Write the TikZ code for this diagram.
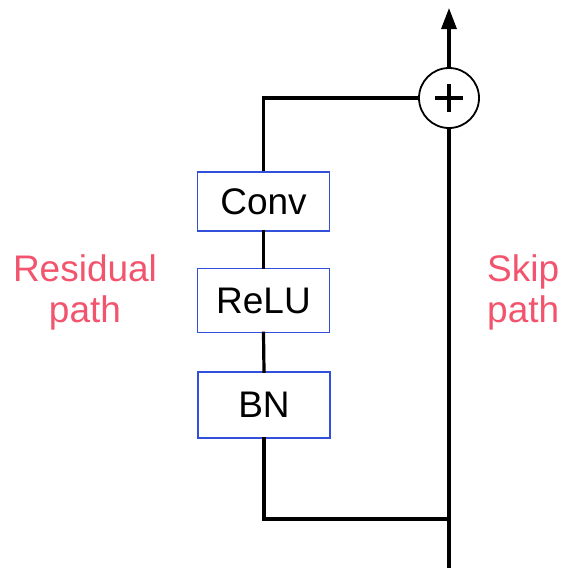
\documentclass[tikz,border=0pt]{standalone}
\usepackage{fontspec}
\setmainfont{Liberation Sans}
\usetikzlibrary{arrows.meta}
\definecolor{boxblue}{RGB}{50,80,220}
\definecolor{labelred}{RGB}{242,84,110}
\begin{document}
\begin{tikzpicture}[x=1pt,y=-1pt,
  layer/.style={draw=boxblue,line width=1.4pt,fill=white,minimum width=132pt,inner sep=0pt,font=\fontsize{37}{40}\selectfont},
  wire/.style={line width=3.2pt,line cap=rect},
  lbl/.style={text=labelred,font=\fontsize{37}{41}\selectfont,inner sep=0pt}]
\useasboundingbox (0,0) rectangle (560,568);
\node[layer,minimum height=59pt] (conv) at (263.5,201.5) {Conv};
\node[layer,minimum height=64pt] (relu) at (263.5,300.5) {ReLU};
\node[layer,minimum height=66pt] (bn) at (264,405) {BN};
\node[draw,circle,line width=1.8pt,minimum size=60pt,inner sep=0pt] (plus) at (449,98) {};
\draw[line width=3.4pt] (plus.center) ++(-14,0) -- ++(28,0) (plus.center) ++(0,-14) -- ++(0,28);
\coordinate (in) at (449,568);
\coordinate (j) at (449,519);
\coordinate (out) at (449,8);
\draw[wire] (in) -- (plus.south);
\draw[wire] (bn.south) |- (j);
\draw[wire] (bn.north) -- (relu.south);
\draw[wire] (relu.north) -- (conv.south);
\draw[wire,line cap=butt] (conv.north) |- (plus.west);
\draw[wire,line cap=butt,-{Triangle[length=21pt,width=15pt]}] (plus.north) -- (out);
\node[lbl,align=center] (res) at (85,292) {Residual\\path};
\node[lbl,align=left,anchor=west] (skip) at (487,292) {Skip\\path};
\end{tikzpicture}
\end{document}
